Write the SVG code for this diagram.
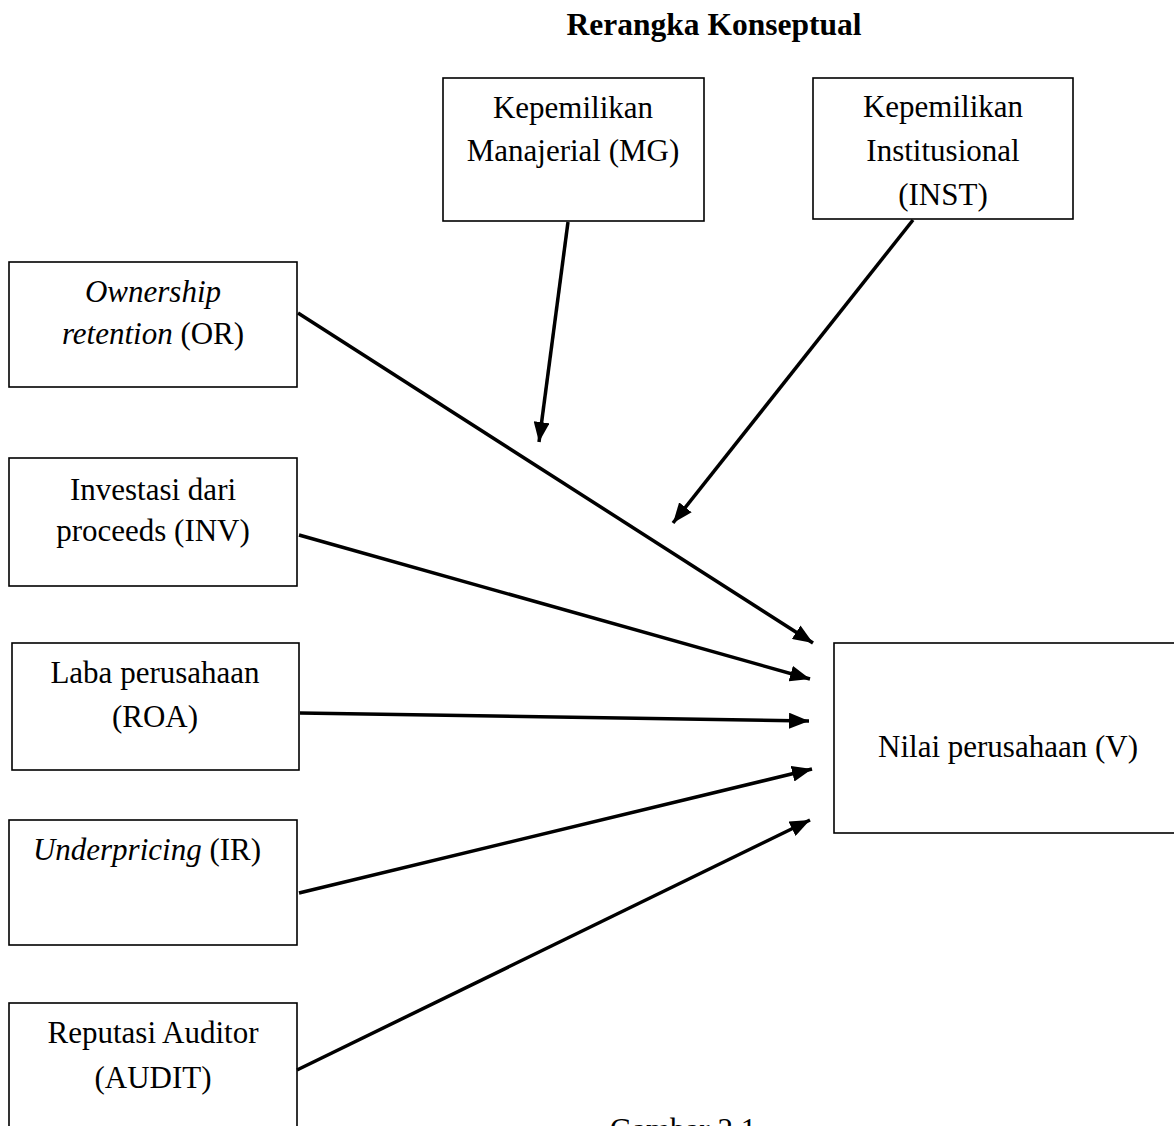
<svg xmlns="http://www.w3.org/2000/svg" width="1174" height="1126" viewBox="0 0 1174 1126">
<style>
.box{fill:#fff;stroke:#000;stroke-width:1.6}
.t{font-family:"Liberation Serif","Times New Roman",serif;font-size:31px;fill:#000;text-anchor:middle}
.b{font-weight:bold;font-size:31.5px}
.i{font-style:italic}
.c{stroke:#000;stroke-width:3.5;fill:none;marker-end:url(#ah)}
</style>
<defs>
<marker id="ah" markerUnits="userSpaceOnUse" markerWidth="22" markerHeight="16" refX="20" refY="8" orient="auto">
<path d="M0,0 L20,8 L0,16 z" fill="#000"/>
</marker>
</defs>
<rect width="1174" height="1126" fill="#fff"/>
<text class="t b" x="714" y="35">Rerangka Konseptual</text>
<g id="mg"><rect class="box" x="443" y="78" width="261" height="143"/>
<text class="t" x="573" y="118">Kepemilikan</text><text class="t" x="573" y="161">Manajerial (MG)</text></g>
<g id="inst"><rect class="box" x="813" y="78" width="260" height="141"/>
<text class="t" x="943" y="117">Kepemilikan</text><text class="t" x="943" y="161">Institusional</text><text class="t" x="943" y="205">(INST)</text></g>
<g id="or"><rect class="box" x="9" y="262" width="288" height="125"/>
<text class="t i" x="153" y="302">Ownership</text><text class="t" x="153" y="344"><tspan class="i">retention</tspan> (OR)</text></g>
<g id="inv"><rect class="box" x="9" y="458" width="288" height="128"/>
<text class="t" x="153" y="500">Investasi dari</text><text class="t" x="153" y="541">proceeds (INV)</text></g>
<g id="roa"><rect class="box" x="12" y="643" width="287" height="127"/>
<text class="t" x="155" y="683">Laba perusahaan</text><text class="t" x="155" y="727">(ROA)</text></g>
<g id="ir"><rect class="box" x="9" y="820" width="288" height="125"/>
<text class="t" x="147" y="860"><tspan class="i">Underpricing</tspan> (IR)</text></g>
<g id="audit"><rect class="box" x="9" y="1003" width="288" height="140"/>
<text class="t" x="153" y="1043">Reputasi Auditor</text><text class="t" x="153" y="1088">(AUDIT)</text></g>
<g id="v"><rect class="box" x="834" y="643" width="360" height="190"/>
<text class="t" x="1008" y="757">Nilai perusahaan (V)</text></g>
<g id="connectors">
<line class="c" x1="568" y1="222" x2="539" y2="442"/>
<line class="c" x1="913" y1="220" x2="673" y2="523"/>
<line class="c" x1="298" y1="313" x2="813" y2="643"/>
<line class="c" x1="299" y1="535" x2="810" y2="679"/>
<line class="c" x1="300" y1="713" x2="809" y2="721"/>
<line class="c" x1="299" y1="893" x2="812" y2="769"/>
<line class="c" x1="297" y1="1070" x2="810" y2="820"/>
</g>
<text class="t" x="683" y="1140">Gambar 2.1</text>
</svg>
